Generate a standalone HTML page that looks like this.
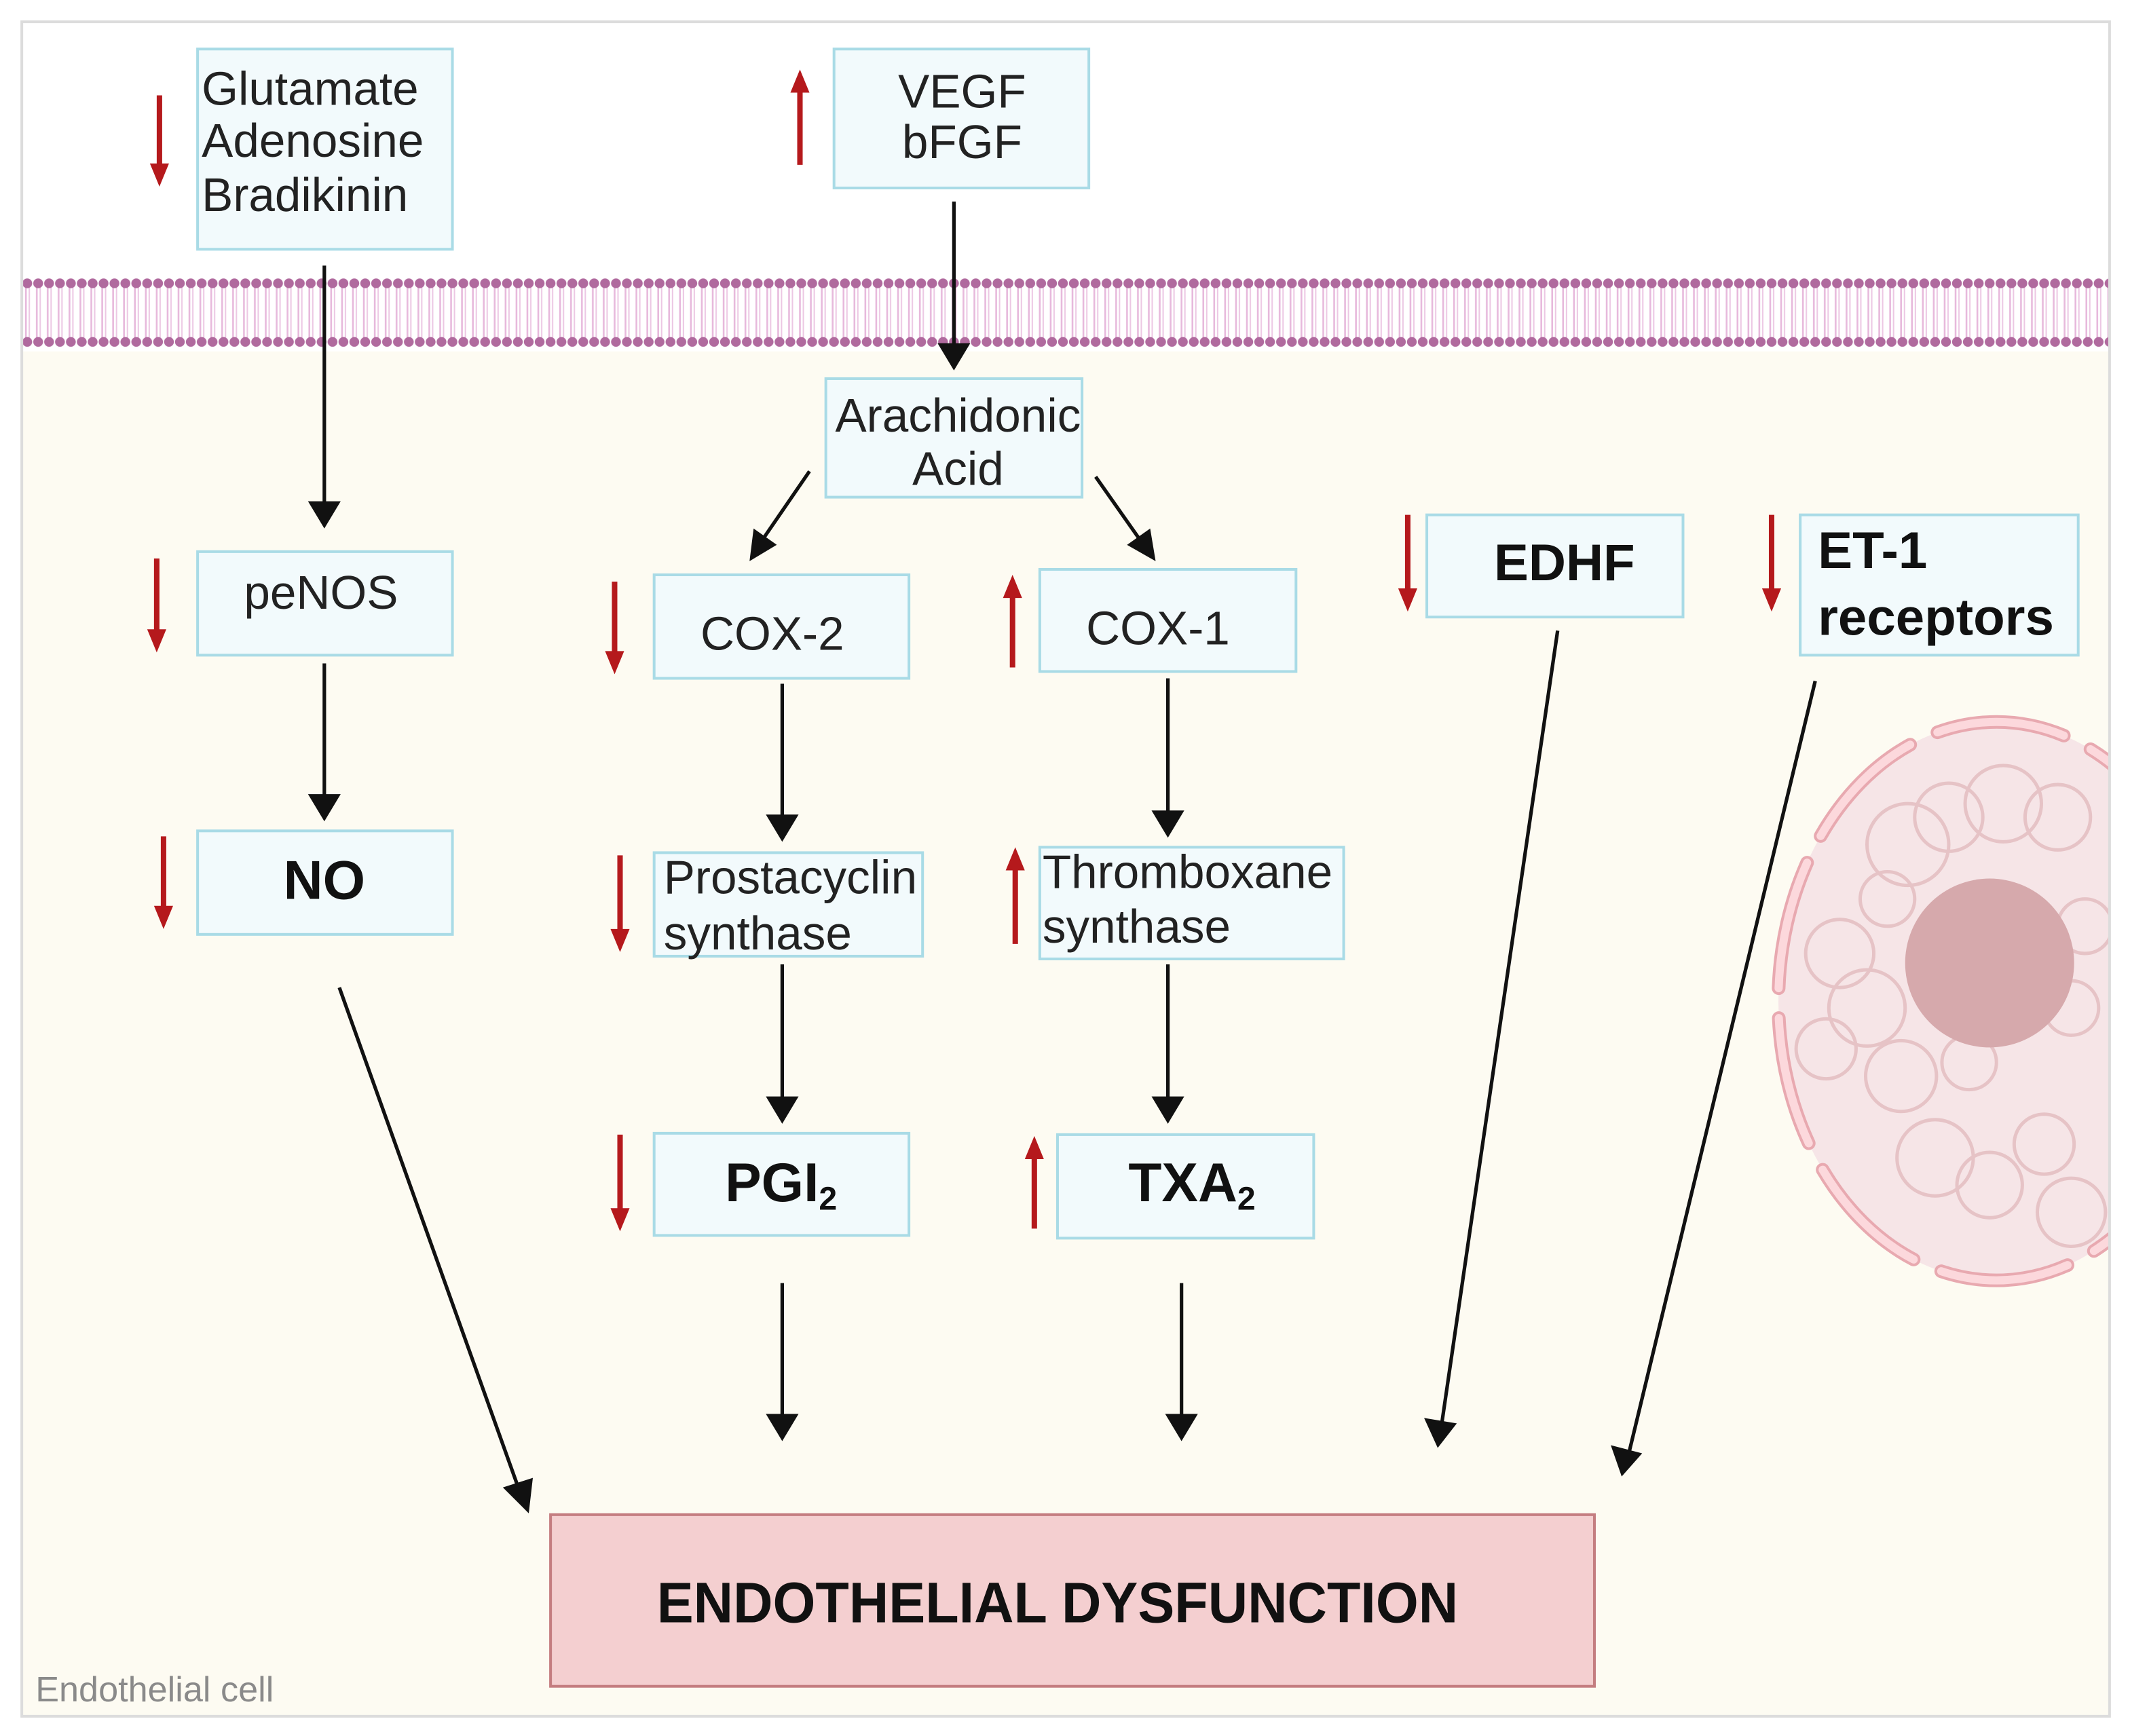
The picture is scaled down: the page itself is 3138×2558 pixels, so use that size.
<!DOCTYPE html>
<html><head><meta charset="utf-8">
<style>
html,body{margin:0;padding:0;background:#fff;}
svg{display:block;}
.t{font-family:"Liberation Sans",sans-serif;font-size:34.5px;fill:#222;}
.b{font-family:"Liberation Sans Narrow","Liberation Sans",sans-serif;font-weight:bold;fill:#111;}
</style></head>
<body>
<svg width="3138" height="2558" viewBox="0 0 1563 1274.5" preserveAspectRatio="none" xmlns="http://www.w3.org/2000/svg">
<defs>
<pattern id="mem" x="16" y="200" width="8" height="60" patternUnits="userSpaceOnUse">
<line x1="3" y1="9" x2="3" y2="50" stroke="#e7b9dc" stroke-width="1.3"/>
<line x1="5.5" y1="9" x2="5.5" y2="50" stroke="#ecc7e3" stroke-width="1"/>
<circle cx="4" cy="8" r="3.6" fill="#b06a9e"/>
<circle cx="4" cy="51" r="3.6" fill="#b06a9e"/>
</pattern>
<clipPath id="cell"><rect x="16" y="258" width="1532" height="1002"/></clipPath>
</defs>
<rect x="0" y="0" width="1563" height="1275" fill="#fff"/>
<rect x="16" y="258" width="1532" height="1002" fill="#fdfbf2"/>
<rect x="16" y="200" width="1532" height="60" fill="url(#mem)"/>

<!-- nucleus -->
<g clip-path="url(#cell)">
<ellipse cx="1465" cy="735" rx="160" ry="205" fill="#f6e5e7"/>
<g fill="none" stroke="#e6c3c6" stroke-width="2.5">
<circle cx="1400" cy="620" r="30"/><circle cx="1430" cy="600" r="25"/><circle cx="1470" cy="590" r="28"/><circle cx="1510" cy="600" r="24"/>
<circle cx="1350" cy="700" r="25"/><circle cx="1370" cy="740" r="28"/><circle cx="1340" cy="770" r="22"/><circle cx="1395" cy="790" r="26"/>
<circle cx="1420" cy="850" r="28"/><circle cx="1460" cy="870" r="24"/><circle cx="1500" cy="840" r="22"/><circle cx="1520" cy="890" r="25"/>
<circle cx="1520" cy="740" r="20"/><circle cx="1385" cy="660" r="20"/><circle cx="1445" cy="780" r="20"/><circle cx="1530" cy="680" r="20"/>
</g>
<ellipse cx="1460" cy="707" rx="62" ry="62" fill="#d6a9ac"/>
<ellipse cx="1465" cy="735" rx="160" ry="205" fill="none" stroke="#e8a9b0" stroke-width="10" stroke-dasharray="95 22" stroke-linecap="round"/>
<ellipse cx="1465" cy="735" rx="160" ry="205" fill="none" stroke="#fcd8dc" stroke-width="6" stroke-dasharray="95 22" stroke-linecap="round"/>
</g>
<rect x="16" y="16" width="1532" height="1244" fill="none" stroke="#dcdcdc" stroke-width="2"/>

<!-- boxes -->
<g fill="#f2fafc" stroke="#a9dbe6" stroke-width="2">
<rect x="145" y="36" width="187" height="147"/>
<rect x="612" y="36" width="187" height="102"/>
<rect x="606" y="278" width="188" height="87"/>
<rect x="145" y="405" width="187" height="76"/>
<rect x="480" y="422" width="187" height="76"/>
<rect x="763" y="418" width="188" height="75"/>
<rect x="1047" y="378" width="188" height="75"/>
<rect x="1321" y="378" width="204" height="103"/>
<rect x="145" y="610" width="187" height="76"/>
<rect x="480" y="626" width="197" height="76"/>
<rect x="763" y="622" width="223" height="82"/>
<rect x="480" y="832" width="187" height="75"/>
<rect x="776" y="833" width="188" height="76"/>
</g>
<rect x="404" y="1112" width="766" height="126" fill="#f4cfd0" stroke="#c47d80" stroke-width="2"/>

<!-- text -->
<text class="t" x="148" y="77">Glutamate</text>
<text class="t" x="148" y="115">Adenosine</text>
<text class="t" x="148" y="155">Bradikinin</text>
<text class="t" x="706" y="79" text-anchor="middle">VEGF</text>
<text class="t" x="706" y="116" text-anchor="middle">bFGF</text>
<text class="t" x="703" y="317" text-anchor="middle">Arachidonic</text>
<text class="t" x="703" y="356" text-anchor="middle">Acid</text>
<text class="t" x="179" y="447">peNOS</text>
<text class="t" x="514" y="477">COX-2</text>
<text class="t" x="797" y="473">COX-1</text>
<text class="t" x="487" y="656">Prostacyclin</text>
<text class="t" x="487" y="697">synthase</text>
<text class="t" x="765" y="652">Thromboxane</text>
<text class="t" x="765" y="692">synthase</text>
<text class="b" x="1148" y="426" font-size="38" text-anchor="middle">EDHF</text>
<text class="b" x="1334" y="417" font-size="38">ET-1</text>
<text class="b" x="1334" y="466" font-size="38">receptors</text>
<text class="b" x="238" y="660" font-size="40" text-anchor="middle">NO</text>
<text class="b" x="532" y="882" font-size="40">PGI<tspan font-size="24" dy="6">2</tspan></text>
<text class="b" x="828" y="882" font-size="40">TXA<tspan font-size="24" dy="6">2</tspan></text>
<text class="b" x="482" y="1191" font-size="42" textLength="588" lengthAdjust="spacingAndGlyphs">ENDOTHELIAL DYSFUNCTION</text>
<text x="26" y="1249" font-family="Liberation Sans,sans-serif" font-size="26" fill="#8a8a8a">Endothelial cell</text>

<!-- black arrows -->
<g stroke="#111" stroke-width="2.6" fill="none">
<line x1="238" y1="195" x2="238" y2="370"/>
<line x1="700" y1="148" x2="700" y2="255"/>
<line x1="594" y1="346" x2="559" y2="397"/>
<line x1="804" y1="350" x2="837" y2="397"/>
<line x1="238" y1="487" x2="238" y2="585"/>
<line x1="574" y1="502" x2="574" y2="600"/>
<line x1="857" y1="498" x2="857" y2="597"/>
<line x1="574" y1="708" x2="574" y2="807"/>
<line x1="857" y1="708" x2="857" y2="807"/>
<line x1="574" y1="942" x2="574" y2="1040"/>
<line x1="867" y1="942" x2="867" y2="1040"/>
<line x1="249" y1="725" x2="381" y2="1094"/>
<line x1="1143" y1="463" x2="1058" y2="1045"/>
<line x1="1332" y1="500" x2="1195" y2="1068"/>
</g>
<g fill="#111">
<polygon points="226,368 250,368 238,388"/>
<polygon points="688,252 712,252 700,272"/>
<polygon points="550,412 553,388 570,400"/>
<polygon points="848,412 827,400 844,388"/>
<polygon points="226,583 250,583 238,603"/>
<polygon points="562,598 586,598 574,618"/>
<polygon points="845,595 869,595 857,615"/>
<polygon points="562,805 586,805 574,825"/>
<polygon points="845,805 869,805 857,825"/>
<polygon points="562,1038 586,1038 574,1058"/>
<polygon points="855,1038 879,1038 867,1058"/>
<polygon points="388,1111 369,1092 391,1085"/>
<polygon points="1055,1063 1045,1041 1069,1045"/>
<polygon points="1190,1084 1182,1061 1205,1067"/>
</g>

<!-- red arrows -->
<g stroke="#b5191c" stroke-width="4">
<line x1="117" y1="70" x2="117" y2="122"/>
<line x1="587" y1="66" x2="587" y2="121"/>
<line x1="115" y1="410" x2="115" y2="464"/>
<line x1="451" y1="427" x2="451" y2="480"/>
<line x1="743" y1="437" x2="743" y2="490"/>
<line x1="1033" y1="378" x2="1033" y2="434"/>
<line x1="1300" y1="378" x2="1300" y2="434"/>
<line x1="120" y1="614" x2="120" y2="667"/>
<line x1="455" y1="628" x2="455" y2="684"/>
<line x1="745" y1="637" x2="745" y2="693"/>
<line x1="455" y1="833" x2="455" y2="889"/>
<line x1="759" y1="849" x2="759" y2="902"/>
</g>
<g fill="#b5191c">
<polygon points="110,120 124,120 117,137"/>
<polygon points="580,68 594,68 587,51"/>
<polygon points="108,462 122,462 115,479"/>
<polygon points="444,478 458,478 451,495"/>
<polygon points="736,439 750,439 743,422"/>
<polygon points="1026,432 1040,432 1033,449"/>
<polygon points="1293,432 1307,432 1300,449"/>
<polygon points="113,665 127,665 120,682"/>
<polygon points="448,682 462,682 455,699"/>
<polygon points="738,639 752,639 745,622"/>
<polygon points="448,887 462,887 455,904"/>
<polygon points="752,851 766,851 759,834"/>
</g>
</svg>
</body></html>
